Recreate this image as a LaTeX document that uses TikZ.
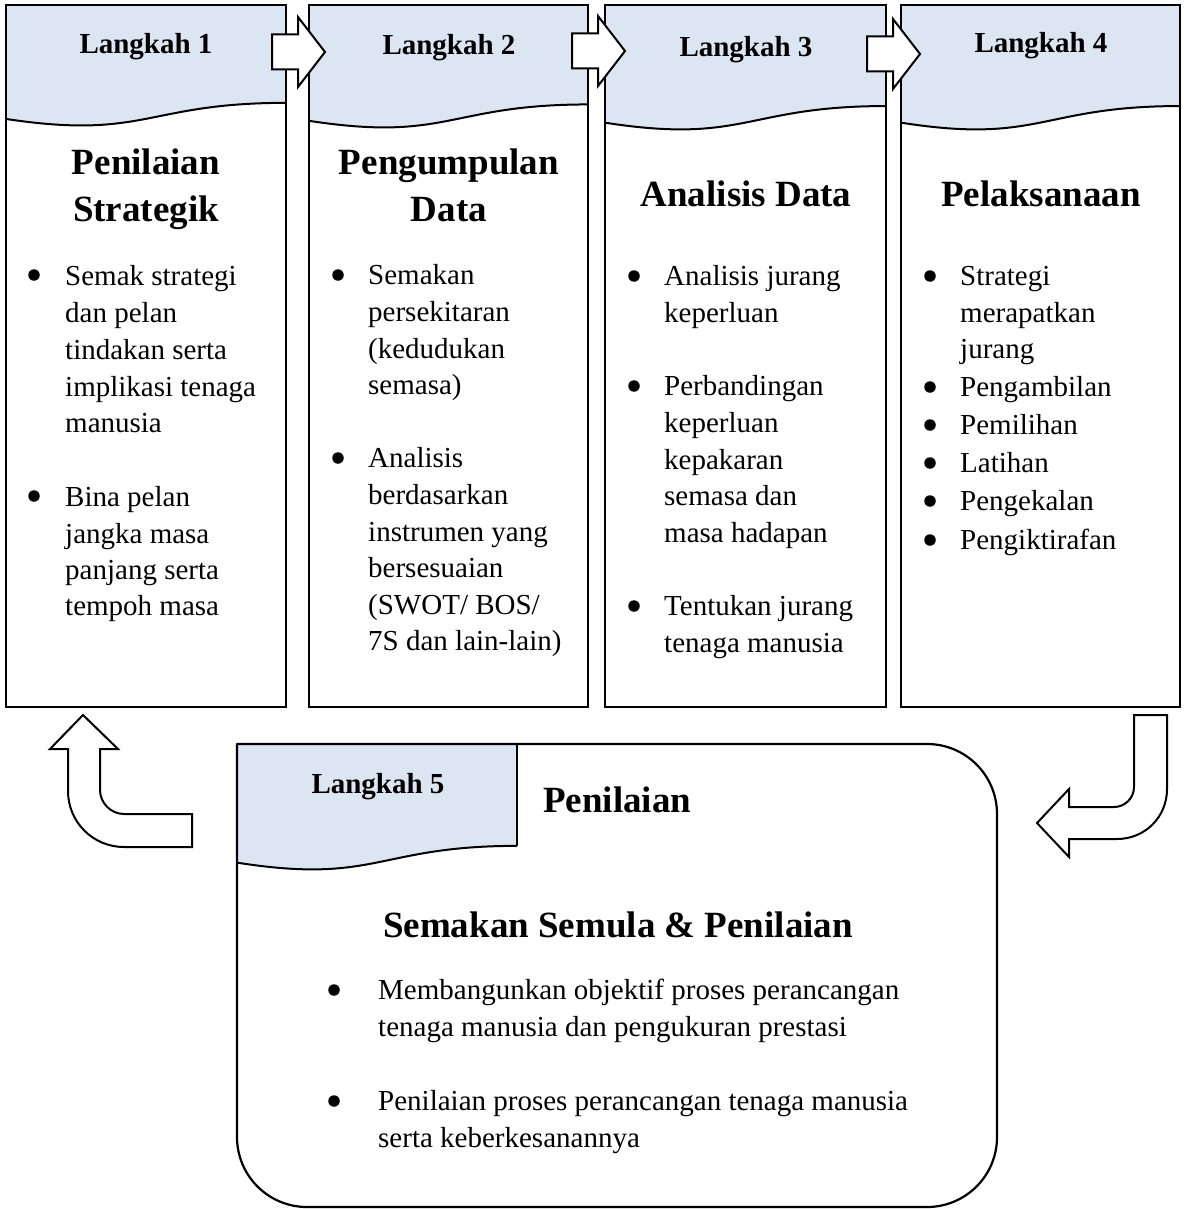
\documentclass[tikz,border=0pt]{standalone}
\usepackage{fontspec}
\setmainfont{Liberation Serif}
\definecolor{hdrblue}{RGB}{220,230,242}
\newcommand\hdrwave[4]{% x1, x2, top, H
  \fill[hdrblue] (#1,#3) -- (#2,#3) -- (#2,{#3+0.802*#4})
    .. controls ({(#1+#2)/2},{#3+0.802*#4}) and ({(#1+#2)/2},{#3+1.1075*#4}) .. (#1,{#3+0.934*#4}) -- cycle;
  \draw[waveline] (#2,{#3+0.802*#4})
    .. controls ({(#1+#2)/2},{#3+0.802*#4}) and ({(#1+#2)/2},{#3+1.1075*#4}) .. (#1,{#3+0.934*#4});
}
\newcommand\rblock[2]{% shaft left x, centre y
  \draw[arrowshape] (#1,{#2-17.5}) -- ({#1+26},{#2-17.5}) -- ({#1+26},{#2-35}) -- ({#1+53},#2)
    -- ({#1+26},{#2+35}) -- ({#1+26},{#2+17.5}) -- (#1,{#2+17.5}) -- cycle;
}
\newcommand\tl[4]{\node[txt] (#1) at (#2,#3) {#4};}
\newcommand\bu[3]{\node[dot] (#1) at (#2,#3) {};}
\begin{document}
\begin{tikzpicture}[x=1pt,y=-1pt,
  boxstyle/.style={draw=black,line width=2.5pt,inner sep=0,outer sep=0,minimum width=280pt,minimum height=702pt,anchor=north west},
  waveline/.style={draw=black,line width=2pt},
  arrowshape/.style={draw=black,fill=white,line width=2pt,line join=miter},
  lbl/.style={font=\fontsize{29}{35}\selectfont\bfseries,inner sep=0,anchor=base},
  ttl/.style={font=\fontsize{37}{47}\selectfont\bfseries,inner sep=0,anchor=base},
  txt/.style={font=\fontsize{29}{36.7}\selectfont,inner sep=0,anchor=base west},
  dot/.style={circle,fill=black,inner sep=0,minimum size=11.5pt},
]
\useasboundingbox (0,0) rectangle (1183,1209);
\fill[white] (0,0) rectangle (1183,1209);

% headers
\hdrwave{6}{286}{5}{122}
\hdrwave{309}{588}{5}{124}
\hdrwave{605}{886}{5}{126}
\hdrwave{901}{1180}{5}{126}

% boxes
\node[boxstyle] (box1) at (6,5) {};
\node[boxstyle,minimum width=279pt] (box2) at (309,5) {};
\node[boxstyle,minimum width=281pt] (box3) at (605,5) {};
\node[boxstyle,minimum width=279pt] (box4) at (901,5) {};

% block arrows between boxes
\rblock{272}{52}
\rblock{572}{51}
\rblock{867}{54}

% Box 1
\node[lbl] (l1) at (146,54) {Langkah 1};
\node[ttl] (t1a) at (146,175) {Penilaian};
\node[ttl] (t1b) at (146,222) {Strategik};
\bu{b1a}{34}{275}
\bu{b1b}{34}{496}
\tl{x1a}{65}{285}{Semak strategi}
\tl{x1b}{65}{322}{dan pelan}
\tl{x1c}{65}{359}{tindakan serta}
\tl{x1d}{65}{396}{implikasi tenaga}
\tl{x1e}{65}{432}{manusia}
\tl{x1f}{65}{506}{Bina pelan}
\tl{x1g}{65}{543}{jangka masa}
\tl{x1h}{65}{579}{panjang serta}
\tl{x1i}{65}{615}{tempoh masa}

% Box 2
\node[lbl] (l2) at (449,55) {Langkah 2};
\node[ttl] (t2a) at (449,175) {Pengumpulan};
\node[ttl] (t2b) at (449,222) {Data};
\bu{b2a}{338}{275}
\bu{b2b}{338}{458}
\tl{x2a}{368}{284}{Semakan}
\tl{x2b}{368}{321}{persekitaran}
\tl{x2c}{368}{358}{(kedudukan}
\tl{x2d}{368}{394}{semasa)}
\tl{x2e}{368}{467}{Analisis}
\tl{x2f}{368}{504}{berdasarkan}
\tl{x2g}{368}{541}{instrumen yang}
\tl{x2h}{368}{577}{bersesuaian}
\tl{x2i}{368}{614}{(SWOT/ BOS/}
\tl{x2j}{368}{650}{7S dan lain-lain)}

% Box 3
\node[lbl] (l3) at (746,57) {Langkah 3};
\node[ttl] (t3a) at (746,207) {Analisis Data};
\bu{b3a}{634}{276}
\bu{b3b}{634}{386}
\bu{b3c}{634}{606}
\tl{x3a}{664}{285}{Analisis jurang}
\tl{x3b}{664}{322}{keperluan}
\tl{x3c}{664}{395}{Perbandingan}
\tl{x3d}{664}{432}{keperluan}
\tl{x3e}{664}{469}{kepakaran}
\tl{x3f}{664}{505}{semasa dan}
\tl{x3g}{664}{542}{masa hadapan}
\tl{x3h}{664}{615}{Tentukan jurang}
\tl{x3i}{664}{652}{tenaga manusia}

% Box 4
\node[lbl] (l4) at (1041,53) {Langkah 4};
\node[ttl] (t4a) at (1041,207) {Pelaksanaan};
\bu{b4a}{930}{276}
\bu{b4b}{930}{387}
\bu{b4c}{930}{425}
\bu{b4d}{930}{463}
\bu{b4e}{930}{501}
\bu{b4f}{930}{540}
\tl{x4a}{960}{285}{Strategi}
\tl{x4b}{960}{322}{merapatkan}
\tl{x4c}{960}{358}{jurang}
\tl{x4d}{960}{396}{Pengambilan}
\tl{x4e}{960}{434}{Pemilihan}
\tl{x4f}{960}{472}{Latihan}
\tl{x4g}{960}{510}{Pengekalan}
\tl{x4h}{960}{549}{Pengiktirafan}

% Box 5
\coordinate (box5) at (237,744);
\hdrwave{237}{517}{744}{127}
\draw[line width=2pt] (517,744) -- (517,{744+0.802*127});
\draw[line width=2.2pt,line join=round] (237,744) -- (927,744)
  .. controls (965.7,744) and (997,775.3) .. (997,814)
  -- (997,1137) .. controls (997,1175.7) and (965.7,1207) .. (927,1207)
  -- (307,1207) .. controls (268.3,1207) and (237,1175.7) .. (237,1137)
  -- cycle;
\node[lbl] (l5) at (378,793) {Langkah 5};
\node[ttl,anchor=base west] (t5a) at (543,812) {Penilaian};
\node[ttl] (t5b) at (618,937) {Semakan Semula \& Penilaian};
\bu{b5a}{334}{990}
\bu{b5b}{334}{1101}
\tl{x5a}{378}{999}{Membangunkan objektif proses perancangan}
\tl{x5b}{378}{1036}{tenaga manusia dan pengukuran prestasi}
\tl{x5c}{378}{1110}{Penilaian proses perancangan tenaga manusia}
\tl{x5d}{378}{1147}{serta keberkesanannya}

% bent arrow up (left)
\draw[arrowshape] (83,715) -- (118,749) -- (100,749) -- (100,790)
  .. controls (100,803) and (111,814) .. (124,814) -- (192,814) -- (192,847) -- (124,847)
  .. controls (93,847) and (68,822) .. (68,791) -- (68,749) -- (50,749) -- cycle;

% bent arrow down-left (right)
\draw[arrowshape] (1134,715) -- (1134,787)
  .. controls (1134,798) and (1125,807) .. (1114,807) -- (1069,807) -- (1069,789) -- (1037,823)
  -- (1069,857) -- (1069,839) -- (1117,839)
  .. controls (1145,839) and (1167,817) .. (1167,789) -- (1167,715) -- cycle;
\end{tikzpicture}
\end{document}
